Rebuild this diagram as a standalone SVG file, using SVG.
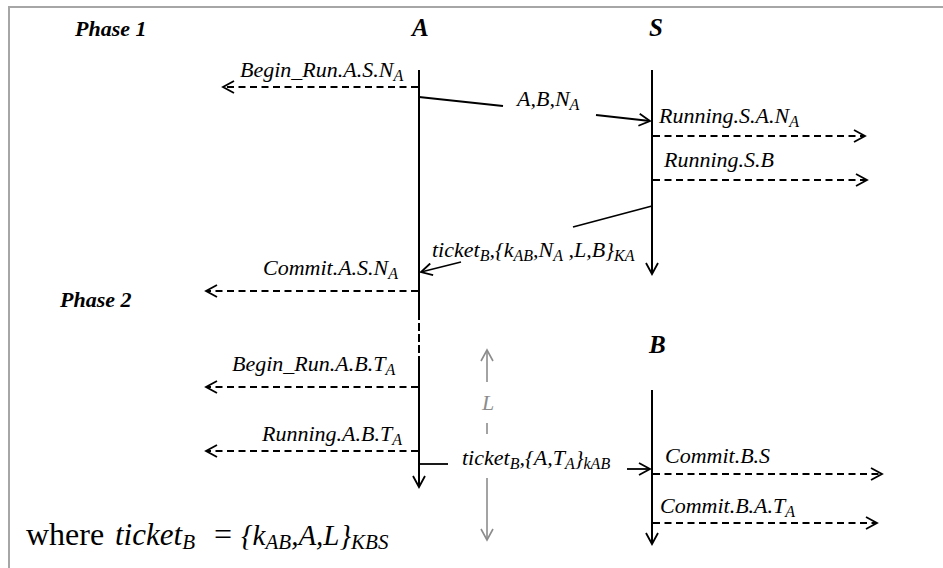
<svg xmlns="http://www.w3.org/2000/svg" width="943" height="568" viewBox="0 0 943 568">
  <style>
    text { font-family: "Liberation Serif", "Times New Roman", serif; fill: #000; }
    .lbl { font-size: 22px; font-style: italic; }
    .sub { font-size: 16px; }
    .head { font-size: 22px; font-style: italic; font-weight: bold; }
    .node { font-size: 25px; font-style: italic; font-weight: bold; }
    .life { stroke: #000; stroke-width: 2; fill: none; }
    .msg { stroke: #000; stroke-width: 1.8; fill: none; }
    .evt { stroke: #000; stroke-width: 1.8; fill: none; stroke-dasharray: 7 4.5; }
    .span { stroke: #8c8c8c; stroke-width: 1.6; fill: none; }
    .frame { stroke: #a6a6a6; stroke-width: 2; fill: none; }
    .note { font-size: 32px; }
    .note .it { font-style: italic; font-size: 29px; }
    .note .tk { font-style: italic; font-size: 31px; }
    .note .ns { font-style: italic; font-size: 21px; }
  </style>
  <defs>
    <marker id="open" markerUnits="userSpaceOnUse" markerWidth="14" markerHeight="14" viewBox="-12 -7 14 14" refX="0" refY="0" orient="auto">
      <path d="M-11,-6 L0,0 L-11,6" fill="none" stroke="#000" stroke-width="1.8"/>
    </marker>
    <marker id="openGray" markerUnits="userSpaceOnUse" markerWidth="14" markerHeight="14" viewBox="-12 -7 14 14" refX="0" refY="0" orient="auto">
      <path d="M-11,-6 L0,0 L-11,6" fill="none" stroke="#8c8c8c" stroke-width="1.6"/>
    </marker>
  </defs>

  <rect width="943" height="568" fill="#fff"/>
  <path class="frame" d="M9,568 L9,7 L943,7"/>

  <!-- phase headings -->
  <g id="phase1"><text class="head" x="75" y="36">Phase 1</text></g>
  <g id="phase2"><text class="head" x="60" y="307">Phase 2</text></g>

  <!-- principal A -->
  <g id="A">
    <text class="node" x="412" y="36">A</text>
    <line class="life" x1="419" y1="70" x2="419" y2="312"/>
    <line class="life" x1="419" y1="312" x2="419" y2="358" stroke-dasharray="8 3"/>
    <line class="life" x1="419" y1="358" x2="419" y2="487" marker-end="url(#open)"/>
  </g>

  <!-- server S -->
  <g id="S">
    <text class="node" x="649" y="36">S</text>
    <line class="life" x1="652" y1="70" x2="652" y2="274" marker-end="url(#open)"/>
  </g>

  <!-- principal B -->
  <g id="B">
    <text class="node" x="649" y="353">B</text>
    <line class="life" x1="652" y1="390" x2="652" y2="544" marker-end="url(#open)"/>
  </g>

  <!-- messages and events -->
  <g id="connectors">
    <!-- Phase 1: A to S -->
    <line class="msg" x1="419" y1="97" x2="503" y2="106"/>
    <line class="msg" x1="596" y1="115" x2="650" y2="121" marker-end="url(#open)"/>
    <!-- Phase 1: S to A -->
    <line class="msg" x1="652" y1="206" x2="573" y2="227"/>
    <line class="msg" x1="461" y1="262" x2="421" y2="272" marker-end="url(#open)"/>
    <!-- Phase 2: A to B -->
    <line class="msg" x1="419" y1="464" x2="448" y2="464"/>
    <line class="msg" x1="627" y1="469" x2="650" y2="469" marker-end="url(#open)"/>

    <!-- events of A -->
    <line class="evt" x1="418" y1="87" x2="223" y2="87" marker-end="url(#open)"/>
    <line class="evt" x1="418" y1="291" x2="206" y2="291" marker-end="url(#open)"/>
    <line class="evt" x1="418" y1="387" x2="206" y2="387" marker-end="url(#open)"/>
    <line class="evt" x1="418" y1="451" x2="206" y2="451" marker-end="url(#open)"/>
    <!-- events of S -->
    <line class="evt" x1="653" y1="136" x2="865" y2="136" marker-end="url(#open)"/>
    <line class="evt" x1="653" y1="180" x2="867" y2="180" marker-end="url(#open)"/>
    <!-- events of B -->
    <line class="evt" x1="653" y1="474" x2="882" y2="474" marker-end="url(#open)"/>
    <line class="evt" x1="653" y1="523" x2="877" y2="523" marker-end="url(#open)"/>

    <!-- ticket lifetime L -->
    <line class="span" x1="487" y1="382" x2="487" y2="350" marker-end="url(#openGray)"/>
    <line class="span" x1="487" y1="423" x2="487" y2="434"/>
    <line class="span" x1="487" y1="478" x2="487" y2="540" marker-end="url(#openGray)"/>
  </g>

  <!-- labels -->
  <g id="labels">
    <text class="lbl" x="240" y="77">Begin_Run.A.S.N<tspan class="sub" dy="4">A</tspan></text>
    <text class="lbl" x="517" y="106">A,B,N<tspan class="sub" dy="4">A</tspan></text>
    <text class="lbl" x="659" y="123">Running.S.A.N<tspan class="sub" dy="4">A</tspan></text>
    <text class="lbl" x="664" y="167">Running.S.B</text>
    <text class="lbl" x="432" y="257">ticket<tspan class="sub" dy="4">B</tspan><tspan dy="-4">,{k</tspan><tspan class="sub" dy="4">AB</tspan><tspan dy="-4">,N</tspan><tspan class="sub" dy="4">A</tspan><tspan dy="-4"> ,L,B}</tspan><tspan class="sub" dy="4">KA</tspan></text>
    <text class="lbl" x="263" y="275">Commit.A.S.N<tspan class="sub" dy="4">A</tspan></text>
    <text class="lbl" x="232" y="371">Begin_Run.A.B.T<tspan class="sub" dy="4">A</tspan></text>
    <text class="lbl" x="262" y="441">Running.A.B.T<tspan class="sub" dy="4">A</tspan></text>
    <text class="lbl" x="462" y="465">ticket<tspan class="sub" dy="4">B</tspan><tspan dy="-4">,{A,T</tspan><tspan class="sub" dy="4">A</tspan><tspan dy="-4">}</tspan><tspan class="sub" dy="4">kAB</tspan></text>
    <text class="lbl" x="665" y="463">Commit.B.S</text>
    <text class="lbl" x="660" y="513">Commit.B.A.T<tspan class="sub" dy="4">A</tspan></text>
    <text class="lbl" x="482" y="410" style="fill:#8c8c8c">L</text>
    <text class="note" x="26" y="545">where<tspan class="tk" x="115">ticket</tspan><tspan class="ns" dy="4">B</tspan><tspan x="214" dy="-4">=</tspan><tspan class="it" x="241">{k</tspan><tspan class="ns" dy="4">AB</tspan><tspan class="it" dy="-4">,A,L}</tspan><tspan class="ns" dy="4">KBS</tspan></text>
  </g>
</svg>
